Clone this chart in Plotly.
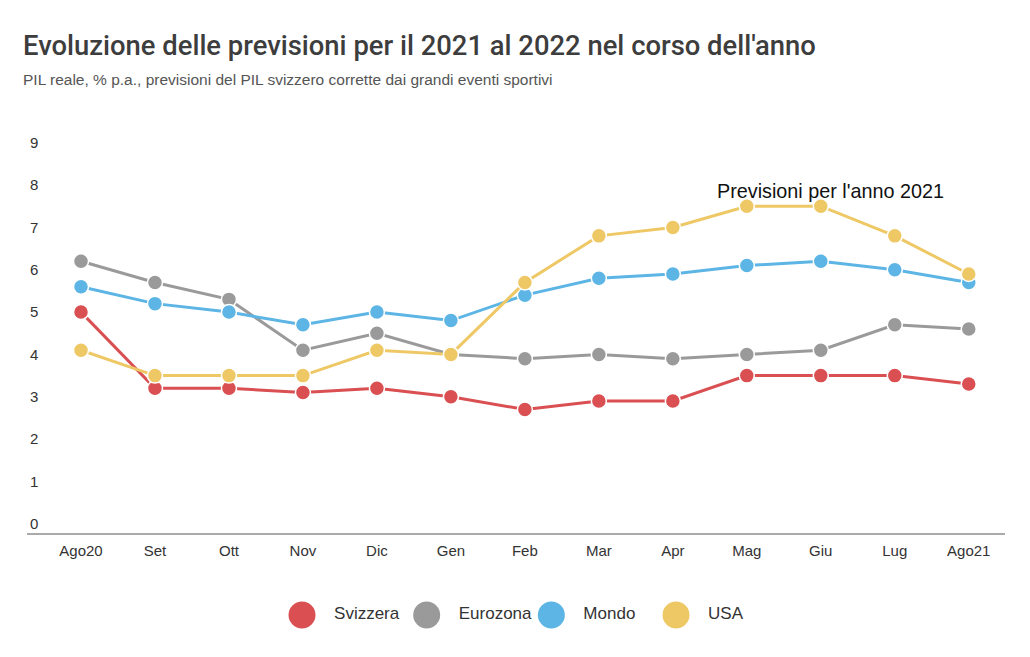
import plotly.graph_objects as go

months = ["Ago20", "Set", "Ott", "Nov", "Dic", "Gen", "Feb", "Mar", "Apr", "Mag", "Giu", "Lug", "Ago21"]
svizzera = [5.0, 3.2, 3.2, 3.1, 3.2, 3.0, 2.7, 2.9, 2.9, 3.5, 3.5, 3.5, 3.3]
eurozona = [6.2, 5.7, 5.3, 4.1, 4.5, 4.0, 3.9, 4.0, 3.9, 4.0, 4.1, 4.7, 4.6]
mondo = [5.6, 5.2, 5.0, 4.7, 5.0, 4.8, 5.4, 5.8, 5.9, 6.1, 6.2, 6.0, 5.7]
usa = [4.1, 3.5, 3.5, 3.5, 4.1, 4.0, 5.7, 6.8, 7.0, 7.5, 7.5, 6.8, 5.9]
yticks = [0, 1, 2, 3, 4, 5, 6, 7, 8, 9]

names = ["Svizzera", "Eurozona", "Mondo", "USA"]
colors = ["#d94f52", "#9a9a9a", "#5cb5e4", "#efc866"]
values = [svizzera, eurozona, mondo, usa]

TITLE_FONT = "Roboto, Liberation Sans, sans-serif"
REG = "Liberation Sans, Arial, sans-serif"

# layout geometry (pixels)
W, H = 1030, 657
ML, MR, MT, MB = 27, 25, 130, 20
PH = H - MT - MB
axis_bottom_px = 534
dom_bottom = (H - MB - axis_bottom_px) / PH
leg_center_px = 615
leg_half = (H - MB - leg_center_px) / PH

fig = go.Figure()
for name, vals, col in zip(names, values, colors):
    fig.add_trace(go.Scatter(
        x=months, y=vals, name=name, mode="lines+markers",
        line=dict(color=col, width=3),
        marker=dict(color=col, size=15, line=dict(color="white", width=1.5)),
        showlegend=False,
    ))

# custom legend drawn as a scatter on its own axes
fig.add_trace(go.Scatter(
    x=names, y=[0] * len(names), mode="markers+text",
    marker=dict(color=colors, size=27),
    text=["\u00a0\u00a0\u00a0" + n for n in names], textposition="middle right",
    textfont=dict(family=REG, size=17, color="#333"),
    xaxis="x2", yaxis="y2", showlegend=False, hoverinfo="skip", cliponaxis=False,
))

fig.update_layout(
    width=W, height=H,
    margin=dict(l=ML, r=MR, t=MT, b=MB),
    paper_bgcolor="white", plot_bgcolor="white",
    showlegend=False,
    title=dict(text="Evoluzione delle previsioni per il 2021 al 2022 nel corso dell'anno",
               font=dict(family=TITLE_FONT, size=27.4, color="#3d3d3d", weight=500),
               x=23/1030, xanchor="left", xref="container",
               y=1-45/657, yanchor="middle", yref="container"),
    xaxis=dict(type="category", range=[-0.73, 12.49], showgrid=False, zeroline=False,
               showline=False, ticks="", ticklabelstandoff=6,
               tickfont=dict(family=REG, size=15, color="#333")),
    yaxis=dict(range=[-0.24, 9.3], domain=[dom_bottom, 1], tickvals=yticks,
               showgrid=False, zeroline=False,
               showline=False, ticks="", ticklabelposition="inside",
               tickfont=dict(family=REG, size=15, color="#333")),
    xaxis2=dict(type="category", range=[-2.206, 5.639], anchor="y2", visible=False),
    yaxis2=dict(range=[-1, 1], domain=[0, 2 * leg_half], anchor="x2", visible=False),
    shapes=[dict(type="line", xref="x domain", yref="y domain", x0=0, x1=1, y0=0, y1=0,
                 line=dict(color="#aaaaaa", width=2))],
    annotations=[
        dict(text="PIL reale, % p.a., previsioni del PIL svizzero corrette dai grandi eventi sportivi",
             xref="paper", yref="paper", x=-6/978, y=1+(MT-80)/PH, xanchor="left", yanchor="middle",
             showarrow=False, font=dict(family=REG, size=15.5, color="#555")),
        dict(text="Previsioni per l'anno 2021", x=10.13, y=7.87, xref="x", yref="y",
             showarrow=False, xanchor="center", yanchor="middle",
             font=dict(family=REG, size=19.8, color="#111")),
    ],
)

fig.write_html("out.html")
